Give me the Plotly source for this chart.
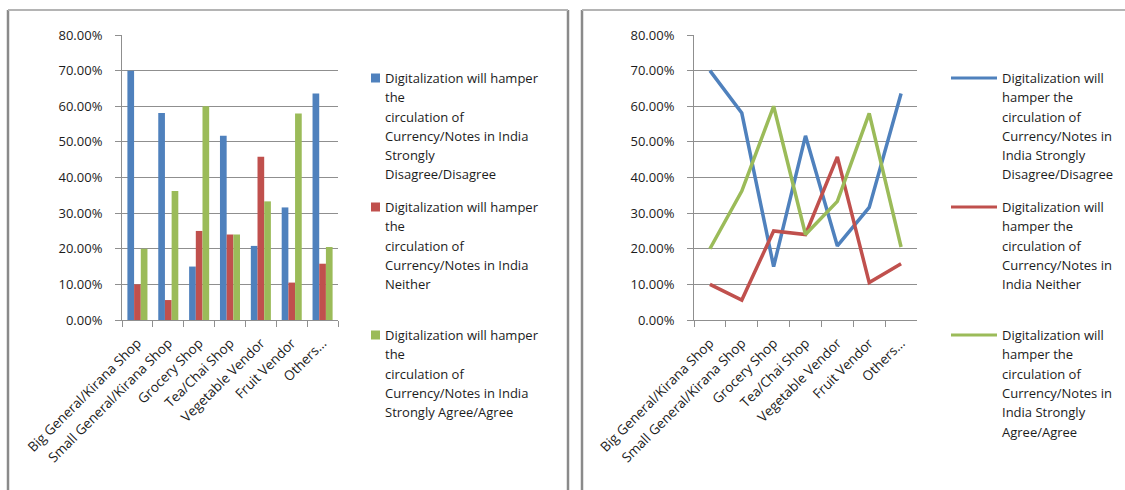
import plotly.graph_objects as go

# ---- data -------------------------------------------------------------
categories = [
    "Big General/Kirana Shop",
    "Small General/Kirana Shop",
    "Grocery Shop",
    "Tea/Chai Shop",
    "Vegetable Vendor",
    "Fruit Vendor",
    "Others...",
]
disagree = [0.700, 0.581, 0.150, 0.517, 0.208, 0.316, 0.636]
neither = [0.100, 0.056, 0.250, 0.240, 0.458, 0.105, 0.158]
agree = [0.200, 0.362, 0.600, 0.240, 0.333, 0.580, 0.205]

series_names = [
    "Digitalization will hamper the circulation of Currency/Notes in India Strongly Disagree/Disagree",
    "Digitalization will hamper the circulation of Currency/Notes in India Neither",
    "Digitalization will hamper the circulation of Currency/Notes in India Strongly Agree/Agree",
]
series_colors = ["#4F81BD", "#C0504D", "#9BBB59"]

# legend text as wrapped in each panel
bar_legend_lines = [
    ["Digitalization will hamper", "the", "circulation of", "Currency/Notes in India", "Strongly", "Disagree/Disagree"],
    ["Digitalization will hamper", "the", "circulation of", "Currency/Notes in India", "Neither"],
    ["Digitalization will hamper", "the", "circulation of", "Currency/Notes in India", "Strongly Agree/Agree"],
]
line_legend_lines = [
    ["Digitalization will", "hamper the", "circulation of", "Currency/Notes in", "India Strongly", "Disagree/Disagree"],
    ["Digitalization will", "hamper the", "circulation of", "Currency/Notes in", "India Neither"],
    ["Digitalization will", "hamper the", "circulation of", "Currency/Notes in", "India Strongly", "Agree/Agree"],
]

y_tick_values = [0.0, 0.1, 0.2, 0.3, 0.4, 0.5, 0.6, 0.7, 0.8]

# ---- geometry helpers (pixel -> paper) ---------------------------------
W, H = 1125, 490


def px(x):
    return x / W


def py(y):
    return 1 - y / H


FONT = "Open Sans"
TEXT_COLOR = "#1c1c1c"
GRID = "#8f8f8f"
FS = 13

values = [disagree, neither, agree]

fig = go.Figure()

for name, vals, color in zip(series_names, values, series_colors):
    fig.add_trace(go.Bar(
        x=categories, y=vals, name=name, marker_color=color,
        marker_line_width=0, xaxis="x", yaxis="y", showlegend=False,
    ))

for name, vals, color in zip(series_names, values, series_colors):
    fig.add_trace(go.Scatter(
        x=categories, y=vals, name=name, mode="lines",
        line=dict(color=color, width=3.5), xaxis="x2", yaxis="y2",
        showlegend=False,
    ))


def x_axis(domain, anchor):
    return dict(
        domain=domain, anchor=anchor, type="category", automargin=False,
        range=[-0.5, len(categories) - 0.5],
        tickson="boundaries", ticks="outside", ticklen=6, tickcolor=GRID,
        showline=True, linecolor=GRID, linewidth=1, showgrid=False,
        tickangle=-45, ticklabelstandoff=9,
        tickfont=dict(family=FONT, size=13.5, color=TEXT_COLOR),
        fixedrange=True,
    )


def y_axis(domain, anchor):
    return dict(
        domain=domain, anchor=anchor, range=[0, 0.8], automargin=False,
        tickvals=y_tick_values, tickformat=".2%",
        showgrid=True, gridcolor=GRID, gridwidth=1, zeroline=False,
        showline=True, linecolor=GRID, linewidth=1,
        ticks="outside", ticklen=6, tickcolor=GRID, ticklabelstandoff=10,
        tickfont=dict(family=FONT, size=FS, color=TEXT_COLOR),
        fixedrange=True,
    )


shapes = []
annotations = []

# panel frames
frame = dict(type="line", xref="paper", yref="paper", line=dict(color="#8a8a8a", width=2.5))
top = dict(type="line", xref="paper", yref="paper", line=dict(color="#b4b4b4", width=2))
shapes += [
    dict(frame, x0=px(8), x1=px(8), y0=py(10), y1=0),
    dict(frame, x0=px(568), x1=px(568), y0=py(10), y1=0),
    dict(frame, x0=px(582), x1=px(582), y0=py(10), y1=0),
    dict(top, x0=px(8), x1=px(568), y0=py(10), y1=py(10)),
    dict(top, x0=px(582), x1=1, y0=py(10), y1=py(10)),
]

# legends
item_tops = [78, 207, 335]
line_step = 19.3
for i, color in enumerate(series_colors):
    y0 = item_tops[i]
    # bar legend key
    shapes.append(dict(type="rect", xref="paper", yref="paper",
                       x0=px(371), x1=px(380), y0=py(y0 - 4.5), y1=py(y0 + 4.5),
                       fillcolor=color, line=dict(width=0)))
    # line legend key
    shapes.append(dict(type="line", xref="paper", yref="paper",
                       x0=px(951), x1=px(997), y0=py(y0), y1=py(y0),
                       line=dict(color=color, width=3)))
    for k, txt in enumerate(bar_legend_lines[i]):
        annotations.append(dict(xref="paper", yref="paper", x=px(383), y=py(y0 + k * line_step),
                                text=txt, showarrow=False, xanchor="left", yanchor="middle",
                                font=dict(family=FONT, size=FS, color=TEXT_COLOR)))
    for k, txt in enumerate(line_legend_lines[i]):
        annotations.append(dict(xref="paper", yref="paper", x=px(1000), y=py(y0 + k * line_step),
                                text=txt, showarrow=False, xanchor="left", yanchor="middle",
                                font=dict(family=FONT, size=FS, color=TEXT_COLOR)))

fig.update_layout(
    width=W, height=H,
    margin=dict(l=0, r=0, t=0, b=0, pad=0),
    paper_bgcolor="white", plot_bgcolor="white",
    barmode="group", bargap=0.35, bargroupgap=0,
    xaxis=x_axis([px(122), px(338)], "y"),
    yaxis=y_axis([py(320), py(35)], "x"),
    xaxis2=x_axis([px(694), px(917)], "y2"),
    yaxis2=y_axis([py(320), py(35)], "x2"),
    shapes=shapes,
    annotations=annotations,
    showlegend=False,
)

fig.write_html("out.html")
